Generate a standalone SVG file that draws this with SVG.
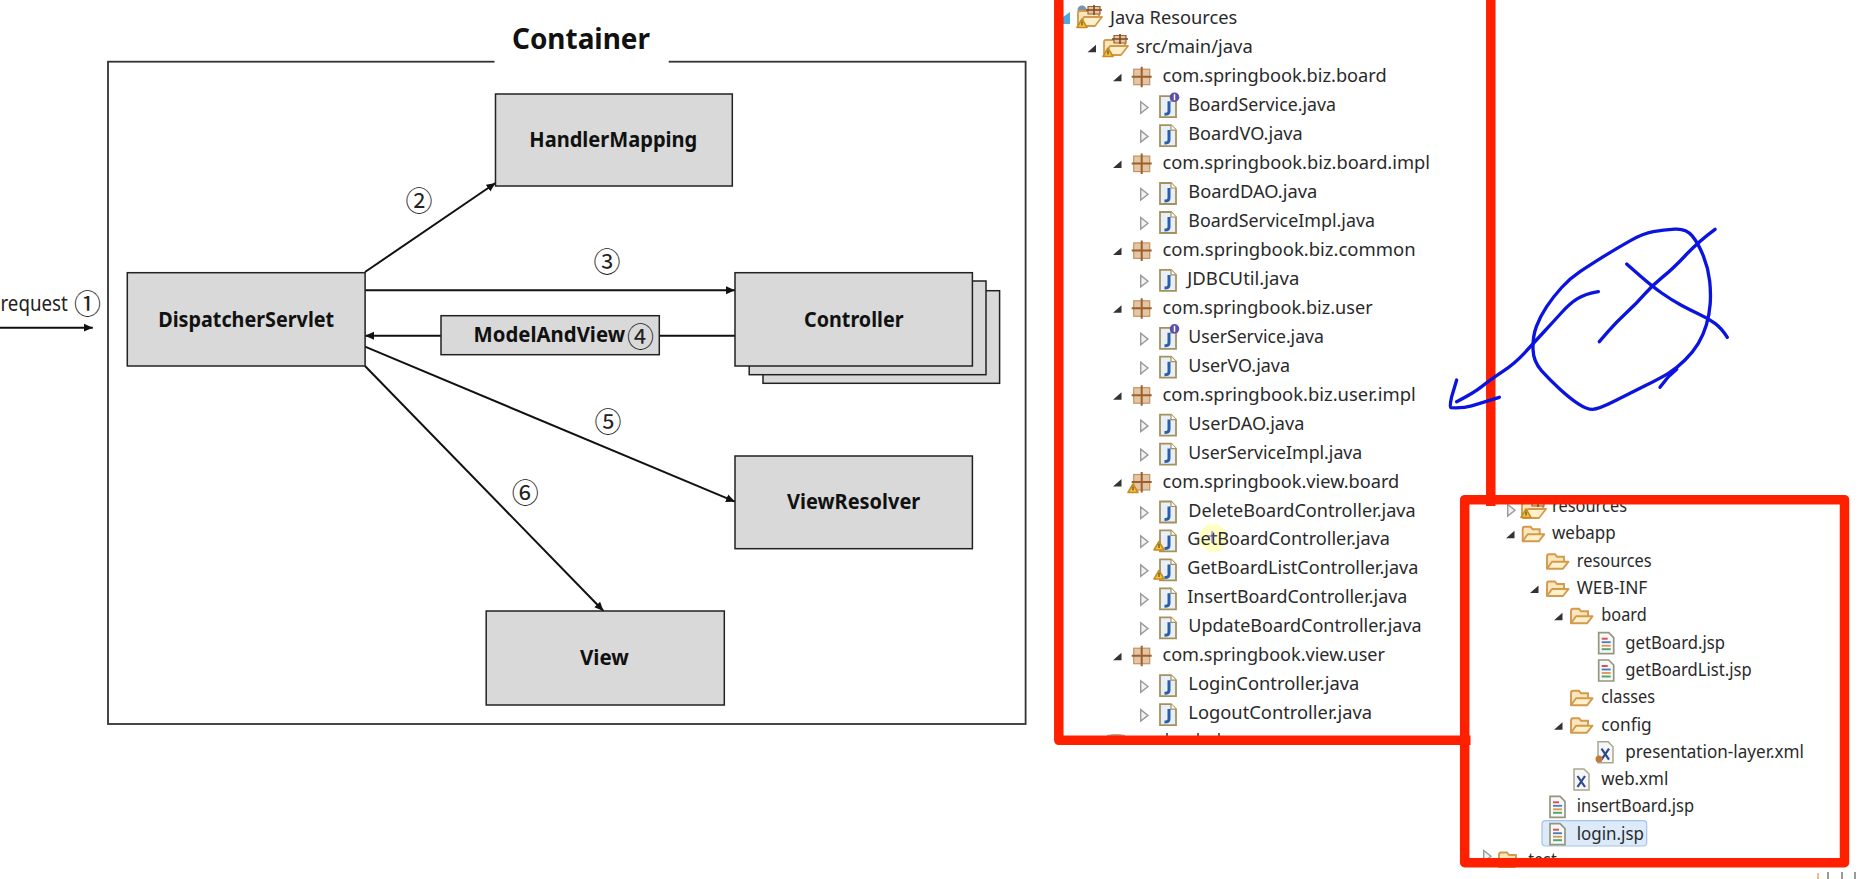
<svg xmlns="http://www.w3.org/2000/svg" width="1860" height="879" viewBox="0 0 1860 879">
<style>
.box{fill:#d9d9d9;stroke:#222;stroke-width:1.5}
.lb{font-family:"Noto Sans","Liberation Sans",sans-serif;font-weight:700;font-size:22px;fill:#111;text-anchor:start}
.cn{font-family:"Noto Sans CJK KR","DejaVu Sans",sans-serif;font-size:27px;fill:#222;text-anchor:middle}
.con{fill:none;stroke:#111;stroke-width:2}
.t{font-family:"Noto Sans","Liberation Sans",sans-serif;font-size:18px;fill:#2a2a2a}
.red{fill:none;stroke:#ff2000;stroke-width:9.5;stroke-linejoin:round}
.pen{fill:none;stroke:#0a14de;stroke-width:10;stroke-linejoin:round;stroke-linecap:round}
</style>
<defs>
<marker id="ah" markerUnits="userSpaceOnUse" markerWidth="10" markerHeight="10" refX="9" refY="5" orient="auto"><path d="M0,1 L9,5 L0,9 Z" fill="#111"/></marker>
<g id="pkg"><rect x="2" y="-13" width="16" height="15.500" fill="#e6c6a2" stroke="#bf9469" stroke-width="1.200"/><path d="M10,-15.500 V5 M0,-5.500 H20" stroke="#9c5f30" stroke-width="2" fill="none"/></g>
<path id="tf" d="M8.500,-8.500 V-1 H0 Z" fill="#333"/>
<path id="th" d="M.7,-9.500 L8,-3.700 L.7,2 Z" fill="#f2f2f2" stroke="#9a9a9a" stroke-width="1.400"/>
<g id="jf"><path d="M1,-15 H12 L17,-10 V6 H1 Z" fill="#e8eff8" stroke="#a3925c" stroke-width="1.800"/><path d="M12,-15 V-10 H17" fill="#fff" stroke="#a3925c" stroke-width="1.200"/><path d="M10,-10 V0 Q10,3 5.500,3" fill="none" stroke="#2a5fa8" stroke-width="3"/></g>
<g id="ib"><circle cx="15.500" cy="-14" r="4.800" fill="#5b4fae"/><path d="M15.500,-17 V-11" stroke="#fff" stroke-width="1.500"/></g>
<g id="wr"><path d="M0,-5 L5,3.500 H-5 Z" fill="#f5c63c" stroke="#c98a1f" stroke-width="1.600" stroke-linejoin="round"/><path d="M0,-2.500 V1.500" stroke="#553" stroke-width="1.300"/></g>
<g id="fo"><path d="M1,2 V-10 Q1,-12.500 3,-12.500 H9 L11,-10 H18 V-5" fill="#fbe6bd" stroke="#d29a4c" stroke-width="1.900"/><path d="M1,2 L6,-5 H22.500 L17,2 Z" fill="#fff0cc" stroke="#d29a4c" stroke-width="1.900" stroke-linejoin="round"/></g>
<g id="js"><path d="M1,-16 H11 L16,-11 V5 H1 Z" fill="#f6f8fa" stroke="#94967f" stroke-width="1.700"/><path d="M4,-10 H10" stroke="#d9534f" stroke-width="2"/><path d="M4,-6.500 H13" stroke="#4a7ab8" stroke-width="1.800"/><path d="M4,-3 H13" stroke="#e0924f" stroke-width="1.800"/><path d="M4,.5 H13" stroke="#5ba56a" stroke-width="2"/></g>
<g id="xf"><path d="M1,-16 H11 L16,-11 V5 H1 Z" fill="#f6f6fb" stroke="#a9a88c" stroke-width="1.500"/><path d="M4.500,-9 L12,2 M12,-9 L4.500,2" stroke="#2a4a8a" stroke-width="2.200"/></g>
<g id="sf"><path d="M1,4 V-8 Q1,-10 3,-10 H22 V-4" fill="#fbe6bd" stroke="#d29a4c" stroke-width="1.800"/><path d="M2,5 L7,-4 H25 L18,5 Z" fill="#fff0cc" stroke="#d29a4c" stroke-width="1.800" stroke-linejoin="round"/><path d="M11,-14.500 H23 V-7 H11 Z" fill="#e6c6a2" stroke="#9c5f30" stroke-width="1.200"/><path d="M17,-16 V-6 M9,-11 H25" stroke="#7c4a22" stroke-width="1.600"/></g>
</defs>
<rect width="1860" height="879" fill="#fff"/>

<g id="container"><rect x="108" y="61.700" width="917.600" height="662.300" fill="#fff" stroke="#333" stroke-width="1.800"/><rect x="494.500" y="55" width="174.200" height="14" fill="#fff"/><text x="512" y="48.500" font-family="Noto Sans,Liberation Sans,sans-serif" font-weight="700" font-size="29" fill="#111" textLength="138" lengthAdjust="spacingAndGlyphs">Container</text></g>

<g id="connectors">
<path class="con" d="M0,327.700 H92.800" marker-end="url(#ah)"/>
<path class="con" d="M365,272 L495.500,183" marker-end="url(#ah)"/>
<path class="con" d="M365,290.300 H735" marker-end="url(#ah)"/>
<path class="con" d="M735,335.700 H365" marker-end="url(#ah)"/>
<path class="con" d="M365,346.700 L735,501.700" marker-end="url(#ah)"/>
<path class="con" d="M365,366 L603.500,611" marker-end="url(#ah)"/>
</g>

<g id="node-handler"><rect class="box" x="495.500" y="94" width="236.800" height="92"/><text class="lb" x="529.300" y="146.500" textLength="168" lengthAdjust="spacingAndGlyphs">HandlerMapping</text></g>
<g id="node-dispatcher"><rect class="box" x="127.300" y="272.700" width="237.800" height="93.300"/><text class="lb" x="158.200" y="327" textLength="176" lengthAdjust="spacingAndGlyphs">DispatcherServlet</text></g>
<g id="node-controller"><rect class="box" x="763" y="290.700" width="236.600" height="92.600"/><rect class="box" x="749.200" y="281" width="236.800" height="93.700"/><rect class="box" x="735" y="272.700" width="237.400" height="93.300"/><text class="lb" x="804" y="326.700" textLength="99.500" lengthAdjust="spacingAndGlyphs">Controller</text></g>
<g id="node-mav"><rect class="box" x="441" y="315.700" width="218.300" height="39"/><text class="lb" x="473.600" y="342" style="font-size:21px" textLength="151.500" lengthAdjust="spacingAndGlyphs">ModelAndView</text><text class="cn" x="640.500" y="347">④</text></g>
<g id="node-resolver"><rect class="box" x="735" y="456" width="237.400" height="92.700"/><text class="lb" x="787" y="509" textLength="133.300" lengthAdjust="spacingAndGlyphs">ViewResolver</text></g>
<g id="node-view"><rect class="box" x="486.200" y="611" width="238.100" height="94"/><text class="lb" x="580" y="665" textLength="48.800" lengthAdjust="spacingAndGlyphs">View</text></g>
<g id="labels">
<text x="0.500" y="311" font-family="Noto Sans,Liberation Sans,sans-serif" font-size="21" fill="#222" textLength="67.200" lengthAdjust="spacingAndGlyphs">request</text>
<text class="cn" x="87.500" y="314.400">①</text>
<text class="cn" x="419" y="211.400">②</text>
<text class="cn" x="607" y="271.700">③</text>
<text class="cn" x="608" y="432.400">⑤</text>
<text class="cn" x="525.300" y="503">⑥</text>
</g>

<g id="tree-main">
<g id="r0"><path d="M1063,17 L1070,12 V24 H1063 Z" fill="#4fa9e0"/><circle cx="1082" cy="10" r="4.500" fill="#7d93a8"/><use href="#sf" x="1077" y="21"/><use href="#wr" x="1082" y="24"/><text class="t" x="1110" y="24.300" textLength="127.300" lengthAdjust="spacingAndGlyphs">Java Resources</text></g>
<g id="r1"><use href="#tf" x="1087.500" y="53.300"/><use href="#sf" x="1103" y="50"/><use href="#wr" x="1108" y="53"/><text class="t" x="1136" y="53.300" textLength="116.700" lengthAdjust="spacingAndGlyphs">src/main/java</text></g>
<g id="r2"><use href="#tf" x="1113" y="82.200"/><use href="#pkg" x="1131.700" y="82.200"/><text class="t" x="1162.500" y="82.200" textLength="224.200" lengthAdjust="spacingAndGlyphs">com.springbook.biz.board</text></g>
<g id="r3"><use href="#th" x="1140" y="111.200"/><use href="#jf" x="1159" y="111.200"/><use href="#ib" x="1159" y="111.200"/><text class="t" x="1188.300" y="111.200" textLength="147.700" lengthAdjust="spacingAndGlyphs">BoardService.java</text></g>
<g id="r4"><use href="#th" x="1140" y="140.100"/><use href="#jf" x="1159" y="140.100"/><text class="t" x="1188.300" y="140.100" textLength="114.400" lengthAdjust="spacingAndGlyphs">BoardVO.java</text></g>
<g id="r5"><use href="#tf" x="1113" y="169.100"/><use href="#pkg" x="1131.700" y="169.100"/><text class="t" x="1162.500" y="169.100" textLength="267.500" lengthAdjust="spacingAndGlyphs">com.springbook.biz.board.impl</text></g>
<g id="r6"><use href="#th" x="1140" y="198"/><use href="#jf" x="1159" y="198"/><text class="t" x="1188.300" y="198" textLength="129" lengthAdjust="spacingAndGlyphs">BoardDAO.java</text></g>
<g id="r7"><use href="#th" x="1140" y="227"/><use href="#jf" x="1159" y="227"/><text class="t" x="1188.300" y="227" textLength="186.700" lengthAdjust="spacingAndGlyphs">BoardServiceImpl.java</text></g>
<g id="r8"><use href="#tf" x="1113" y="255.900"/><use href="#pkg" x="1131.700" y="255.900"/><text class="t" x="1162.500" y="255.900" textLength="253.200" lengthAdjust="spacingAndGlyphs">com.springbook.biz.common</text></g>
<g id="r9"><use href="#th" x="1140" y="284.900"/><use href="#jf" x="1159" y="284.900"/><text class="t" x="1187.300" y="284.900" textLength="112" lengthAdjust="spacingAndGlyphs">JDBCUtil.java</text></g>
<g id="r10"><use href="#tf" x="1113" y="313.800"/><use href="#pkg" x="1131.700" y="313.800"/><text class="t" x="1162.500" y="313.800" textLength="210.200" lengthAdjust="spacingAndGlyphs">com.springbook.biz.user</text></g>
<g id="r11"><use href="#th" x="1140" y="342.800"/><use href="#jf" x="1159" y="342.800"/><use href="#ib" x="1159" y="342.800"/><text class="t" x="1188.300" y="342.800" textLength="135.700" lengthAdjust="spacingAndGlyphs">UserService.java</text></g>
<g id="r12"><use href="#th" x="1140" y="371.700"/><use href="#jf" x="1159" y="371.700"/><text class="t" x="1188.300" y="371.700" textLength="101.700" lengthAdjust="spacingAndGlyphs">UserVO.java</text></g>
<g id="r13"><use href="#tf" x="1113" y="400.700"/><use href="#pkg" x="1131.700" y="400.700"/><text class="t" x="1162.500" y="400.700" textLength="253.200" lengthAdjust="spacingAndGlyphs">com.springbook.biz.user.impl</text></g>
<g id="r14"><use href="#th" x="1140" y="429.600"/><use href="#jf" x="1159" y="429.600"/><text class="t" x="1188.300" y="429.600" textLength="116" lengthAdjust="spacingAndGlyphs">UserDAO.java</text></g>
<g id="r15"><use href="#th" x="1140" y="458.600"/><use href="#jf" x="1159" y="458.600"/><text class="t" x="1188.300" y="458.600" textLength="174" lengthAdjust="spacingAndGlyphs">UserServiceImpl.java</text></g>
<g id="r16"><use href="#tf" x="1113" y="487.500"/><use href="#pkg" x="1131.700" y="487.500"/><use href="#wr" x="1133" y="489"/><text class="t" x="1162.500" y="487.500" textLength="236.800" lengthAdjust="spacingAndGlyphs">com.springbook.view.board</text></g>
<g id="r17"><use href="#th" x="1140" y="516.500"/><use href="#jf" x="1159" y="516.500"/><text class="t" x="1188.300" y="516.500" textLength="227.400" lengthAdjust="spacingAndGlyphs">DeleteBoardController.java</text></g>
<g id="cursor"><circle cx="1213" cy="538" r="14" fill="#ffffc4"/></g>
<g id="r18"><use href="#th" x="1140" y="545.400"/><use href="#jf" x="1159" y="545.400"/><use href="#wr" x="1159" y="546.500"/><text class="t" x="1187.300" y="545.400" textLength="202.700" lengthAdjust="spacingAndGlyphs">GetBoardController.java</text><path d="M1212,531 V543 M1207,536 H1217" stroke="#6a5fc0" stroke-width="1" fill="none"/></g>
<g id="r19"><use href="#th" x="1140" y="574.400"/><use href="#jf" x="1159" y="574.400"/><use href="#wr" x="1159" y="575.500"/><text class="t" x="1187.300" y="574.400" textLength="231" lengthAdjust="spacingAndGlyphs">GetBoardListController.java</text></g>
<g id="r20"><use href="#th" x="1140" y="603.300"/><use href="#jf" x="1159" y="603.300"/><text class="t" x="1187.300" y="603.300" textLength="220" lengthAdjust="spacingAndGlyphs">InsertBoardController.java</text></g>
<g id="r21"><use href="#th" x="1140" y="632.300"/><use href="#jf" x="1159" y="632.300"/><text class="t" x="1188.300" y="632.300" textLength="233.400" lengthAdjust="spacingAndGlyphs">UpdateBoardController.java</text></g>
<g id="r22"><use href="#tf" x="1113" y="661.200"/><use href="#pkg" x="1131.700" y="661.200"/><text class="t" x="1162.500" y="661.200" textLength="222.500" lengthAdjust="spacingAndGlyphs">com.springbook.view.user</text></g>
<g id="r23"><use href="#th" x="1140" y="690.200"/><use href="#jf" x="1159" y="690.200"/><text class="t" x="1188.300" y="690.200" textLength="171" lengthAdjust="spacingAndGlyphs">LoginController.java</text></g>
<g id="r24"><use href="#th" x="1140" y="719.100"/><use href="#jf" x="1159" y="719.100"/><text class="t" x="1188.300" y="719.100" textLength="183.700" lengthAdjust="spacingAndGlyphs">LogoutController.java</text></g>
<path d="M1107,735 Q1116,733 1125,735 V738 H1107 Z" fill="#b99a80"/>
<path d="M1167,733 V738 M1198,733 V738 M1219,733 V738" stroke="#333" stroke-width="1.500"/>
</g>

<g id="tree-web">
<g id="w0"><use href="#th" x="1507" y="514"/><use href="#sf" x="1521" y="513"/><use href="#wr" x="1526" y="514"/><text class="t" x="1552" y="512" textLength="75" lengthAdjust="spacingAndGlyphs">resources</text></g>
<g id="w1"><use href="#tf" x="1506" y="539.300"/><use href="#fo" x="1521.700" y="539.300"/><text class="t" x="1552" y="539.300" textLength="63.700" lengthAdjust="spacingAndGlyphs">webapp</text></g>
<g id="w2"><use href="#fo" x="1546" y="566.700"/><text class="t" x="1576.700" y="566.700" textLength="75" lengthAdjust="spacingAndGlyphs">resources</text></g>
<g id="w3"><use href="#tf" x="1530" y="594"/><use href="#fo" x="1546" y="594"/><text class="t" x="1576.700" y="594" textLength="70.600" lengthAdjust="spacingAndGlyphs">WEB-INF</text></g>
<g id="w4"><use href="#tf" x="1554" y="621.300"/><use href="#fo" x="1570" y="621.300"/><text class="t" x="1601.300" y="621.300" textLength="45.400" lengthAdjust="spacingAndGlyphs">board</text></g>
<g id="w5"><use href="#js" x="1597.700" y="648.700"/><text class="t" x="1625.300" y="648.700" textLength="99.700" lengthAdjust="spacingAndGlyphs">getBoard.jsp</text></g>
<g id="w6"><use href="#js" x="1597.700" y="676"/><text class="t" x="1625.300" y="676" textLength="126.400" lengthAdjust="spacingAndGlyphs">getBoardList.jsp</text></g>
<g id="w7"><use href="#fo" x="1570" y="703.300"/><text class="t" x="1601.300" y="703.300" textLength="53.700" lengthAdjust="spacingAndGlyphs">classes</text></g>
<g id="w8"><use href="#tf" x="1554" y="730.700"/><use href="#fo" x="1570" y="730.700"/><text class="t" x="1601.300" y="730.700" textLength="50.400" lengthAdjust="spacingAndGlyphs">config</text></g>
<g id="w9"><use href="#xf" x="1597" y="757.700"/><circle cx="1599" cy="759" r="3.500" fill="#c07a3a"/><text class="t" x="1625.300" y="757.700" textLength="178.700" lengthAdjust="spacingAndGlyphs">presentation-layer.xml</text></g>
<g id="w10"><use href="#xf" x="1573" y="785"/><text class="t" x="1601.300" y="785" textLength="67" lengthAdjust="spacingAndGlyphs">web.xml</text></g>
<g id="w11"><use href="#js" x="1549" y="812.300"/><text class="t" x="1576.700" y="812.300" textLength="117.300" lengthAdjust="spacingAndGlyphs">insertBoard.jsp</text></g>
<g id="w12"><rect x="1542" y="820.700" width="104.700" height="25.300" rx="3.500" fill="#dceafa" stroke="#a3c3ea" stroke-width="1.200"/><use href="#js" x="1549" y="839.700"/><text class="t" x="1576.700" y="839.700" textLength="67.300" lengthAdjust="spacingAndGlyphs">login.jsp</text></g>
<g id="w13"><use href="#th" x="1483" y="860"/><use href="#fo" x="1498" y="865"/><text class="t" x="1528.300" y="866" textLength="28.400" lengthAdjust="spacingAndGlyphs">test</text></g>
</g>

<g id="frames">
<path class="red" d="M1058.800,-6 V740.300 H1470.500"/>
<path class="red" d="M1490.800,-6 V506"/>
<rect class="red" x="1464.700" y="499.700" width="379.800" height="363"/>
<rect x="1440" y="868" width="420" height="11" fill="#fff"/>
</g>
<g id="corner-marks"><path d="M1818,873 V879" stroke="#f0a070" stroke-width="1.500"/><path d="M1828,872 V879 M1842,872 V879 M1855,872 V879" stroke="#9a9a9a" stroke-width="2"/></g>

<g id="handwriting" transform="translate(1430,200) scale(.33333)">
<path class="pen" d="M734,87.500 Q700,90 670,95 Q640,100 600,122.500 Q560,145 520,170 Q480,195 450,215 Q420,235 395,262.500 Q370,290 350,320 Q330,350 319,380 Q308,410 309,447.500 Q310,485 335,512.500 Q360,540 390,567.500 Q420,595 445,611.500 Q470,628 487.500,628 Q505,628 552.500,604 Q600,580 645,557.500 Q690,535 715,520 Q740,505 765,480 Q790,455 805,430 Q820,405 829,375 Q838,345 840.500,312.500 Q843,280 839,242.500 Q835,205 820,167.500 Q805,130 786.500,107.500 Q768,85 734,87.500"/>
<path class="pen" d="M690,562 L715,530 L740,508"/>
<path class="pen" d="M508,425 L534,395 Q560,365 590,337.500 Q620,310 642.500,284 Q665,258 697.500,231.500 Q730,205 767.500,165 Q805,125 855,88"/>
<path class="pen" d="M590,192 L627.500,225 Q665,258 695,279 Q725,300 752.500,315 Q780,330 807.500,342.500 Q835,355 855,370 Q875,385 892,412"/>
<path class="pen" d="M505,275 Q465,282 442.500,296 Q420,310 395,337.500 Q370,365 340,397.500 Q310,430 282.500,460 Q255,490 217.500,515 Q180,540 155,560 Q130,580 80,605"/>
<path class="pen" d="M80,540 L65,590 Q58,622 62,623 Q100,625 125,617.500 Q150,610 208,592"/>
</g>
</svg>
